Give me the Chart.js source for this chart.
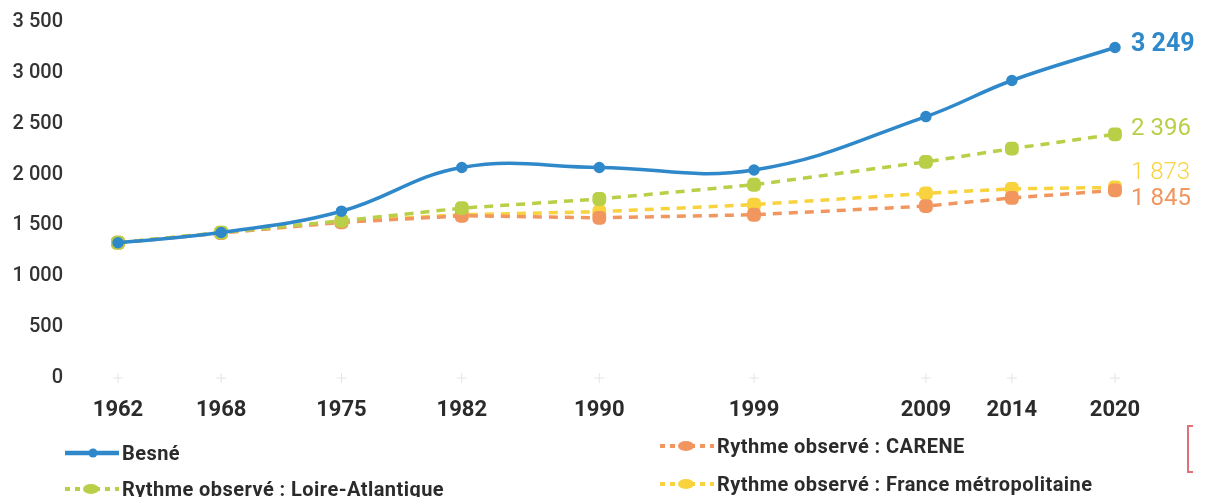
<!DOCTYPE html>
<html>
<head>
<meta charset="utf-8">
<script src="https://cdn.jsdelivr.net/npm/chart.js@4"></script>
<style>
  body { margin: 0; background: #fff; }
  #wrap { position: relative; width: 1206px; height: 497px; }
  #legend { position: absolute; left: 0; top: 0; width: 1206px; height: 497px; pointer-events: none;
    font-family: Roboto, sans-serif; font-weight: 700; font-size: 20px; color: #2b2b2b; letter-spacing: 0.45px; }
  .item { position: absolute; display: flex; align-items: center; white-space: nowrap; }
  .item svg { margin-right: 3px; }
  #bracket { position: absolute; left: 1187px; top: 425px; width: 4px; height: 44px;
    border: 2px solid #e0707a; border-right: none; }
</style>
</head>
<body>
<div id="wrap">
  <canvas id="chart" width="1206" height="497"></canvas>
  <div id="legend"></div>
  <div id="bracket"></div>
</div>
<script>
const years = [1962, 1968, 1975, 1982, 1990, 1999, 2009, 2014, 2020];
const besne = [1330, 1430, 1640, 2070, 2070, 2045, 2570, 2925, 3249];
const loireAtlantique = [1330, 1430, 1545, 1670, 1760, 1900, 2125, 2255, 2396];
const carene = [1330, 1425, 1530, 1595, 1575, 1605, 1690, 1770, 1845];
const france = [1330, 1430, 1540, 1605, 1635, 1705, 1815, 1860, 1873];
const yTicks = [0, 500, 1000, 1500, 2000, 2500, 3000, 3500];

const names = ['Besné', 'Rythme observé : Loire-Atlantique', 'Rythme observé : CARENE', 'Rythme observé : France métropolitaine'];
const colors = ['#2f88c9', '#b9cf47', '#f2965f', '#f8d33d'];

function fmt(v) {
  return String(v).replace(/\B(?=(\d{3})+(?!\d))/g, ' ');
}
function pts(arr) {
  return arr.map((v, i) => ({ x: years[i], y: v }));
}

// étiquettes de fin de courbe + petites croix sur l'axe
const endLabels = {
  id: 'endLabels',
  afterDatasetsDraw(chart) {
    const ctx = chart.ctx;
    const xs = chart.scales.x, ys = chart.scales.y;
    ctx.save();
    ctx.strokeStyle = '#e4e4e4';
    ctx.lineWidth = 1;
    years.forEach(y => {
      const px = xs.getPixelForValue(y), py = ys.getPixelForValue(0);
      ctx.beginPath();
      ctx.moveTo(px - 5, py); ctx.lineTo(px + 5, py);
      ctx.moveTo(px, py - 5); ctx.lineTo(px, py + 5);
      ctx.stroke();
    });
    const styles = [
      { w: '700', size: 25, dy: -3 },
      { w: '400', size: 24, dy: -5 },
      { w: '400', size: 24, dy: 9 },
      { w: '300', size: 24, dy: -14 }
    ];
    chart.data.datasets.forEach((ds, i) => {
      const last = ds.data[ds.data.length - 1];
      const px = xs.getPixelForValue(last.x) + 16;
      const py = ys.getPixelForValue(last.y) + styles[i].dy;
      ctx.font = styles[i].w + ' ' + styles[i].size + 'px Roboto, sans-serif';
      ctx.fillStyle = colors[i];
      ctx.textBaseline = 'middle';
      ctx.textAlign = 'left';
      ctx.fillText(fmt(last.y), px, py);
    });
    ctx.restore();
  }
};

const ctx = document.getElementById('chart').getContext('2d');
const chart = new Chart(ctx, {
  type: 'line',
  data: {
    datasets: [
      { label: names[0], data: pts(besne), borderColor: colors[0], backgroundColor: colors[0],
        borderWidth: 3.5, tension: 0.4, pointRadius: 4, pointStyle: 'circle', clip: false },
      { label: names[1], data: pts(loireAtlantique), borderColor: colors[1], backgroundColor: colors[1],
        borderWidth: 3.5, borderDash: [9, 7], tension: 0, pointRadius: 6, pointStyle: 'rectRounded', clip: false },
      { label: names[2], data: pts(carene), borderColor: colors[2], backgroundColor: colors[2],
        borderWidth: 3.5, borderDash: [9, 7], tension: 0, pointRadius: 6, pointStyle: 'rectRounded', clip: false },
      { label: names[3], data: pts(france), borderColor: colors[3], backgroundColor: colors[3],
        borderWidth: 3.5, borderDash: [9, 7], tension: 0, pointRadius: 6, pointStyle: 'rectRounded', clip: false }
    ]
  },
  options: {
    responsive: false,
    animation: false,
    layout: { padding: { top: 22, right: 91, left: 0, bottom: 0 } },
    plugins: { legend: { display: false }, tooltip: { enabled: false } },
    scales: {
      x: {
        type: 'linear', min: 1962, max: 2020,
        afterBuildTicks: s => { s.ticks = years.map(v => ({ value: v })); },
        afterFit: s => { s.height = 119; s.paddingLeft = 0; s.paddingRight = 0; },
        grid: { display: false, drawTicks: false },
        border: { display: false },
        ticks: { padding: 19, color: '#2b2b2b', font: { family: 'Roboto', size: 22, weight: '700' },
          maxRotation: 0, autoSkip: false, callback: v => String(v) }
      },
      y: {
        min: 0, max: 3500,
        afterBuildTicks: s => { s.ticks = yTicks.map(v => ({ value: v })); },
        afterFit: s => { s.width = 118; s.paddingTop = 0; s.paddingBottom = 0; },
        grid: { display: false, drawTicks: false },
        border: { display: false },
        ticks: { padding: 55, color: '#333', font: { family: 'Roboto', size: 20, weight: '500' },
          callback: v => fmt(v) }
      }
    }
  },
  plugins: [endLabels]
});

// légende HTML en deux colonnes
function sample(i) {
  const c = colors[i];
  if (i === 0) {
    return `<svg width="54" height="14"><line x1="0" y1="7" x2="54" y2="7" stroke="${c}" stroke-width="4.5"/><circle cx="28" cy="7" r="4.5" fill="${c}"/></svg>`;
  }
  return `<svg width="54" height="14"><line x1="0" y1="7" x2="54" y2="7" stroke="${c}" stroke-width="4" stroke-dasharray="5,5"/><ellipse cx="26" cy="7" rx="8" ry="5" fill="${c}"/></svg>`;
}
const legendPos = [[65, 441], [65, 477], [660, 434], [660, 472]];
const legend = document.getElementById('legend');
names.forEach((n, i) => {
  const d = document.createElement('div');
  d.className = 'item';
  d.style.left = legendPos[i][0] + 'px';
  d.style.top = legendPos[i][1] + 'px';
  d.innerHTML = sample(i) + '<span>' + n + '</span>';
  legend.appendChild(d);
});
</script>
</body>
</html>
